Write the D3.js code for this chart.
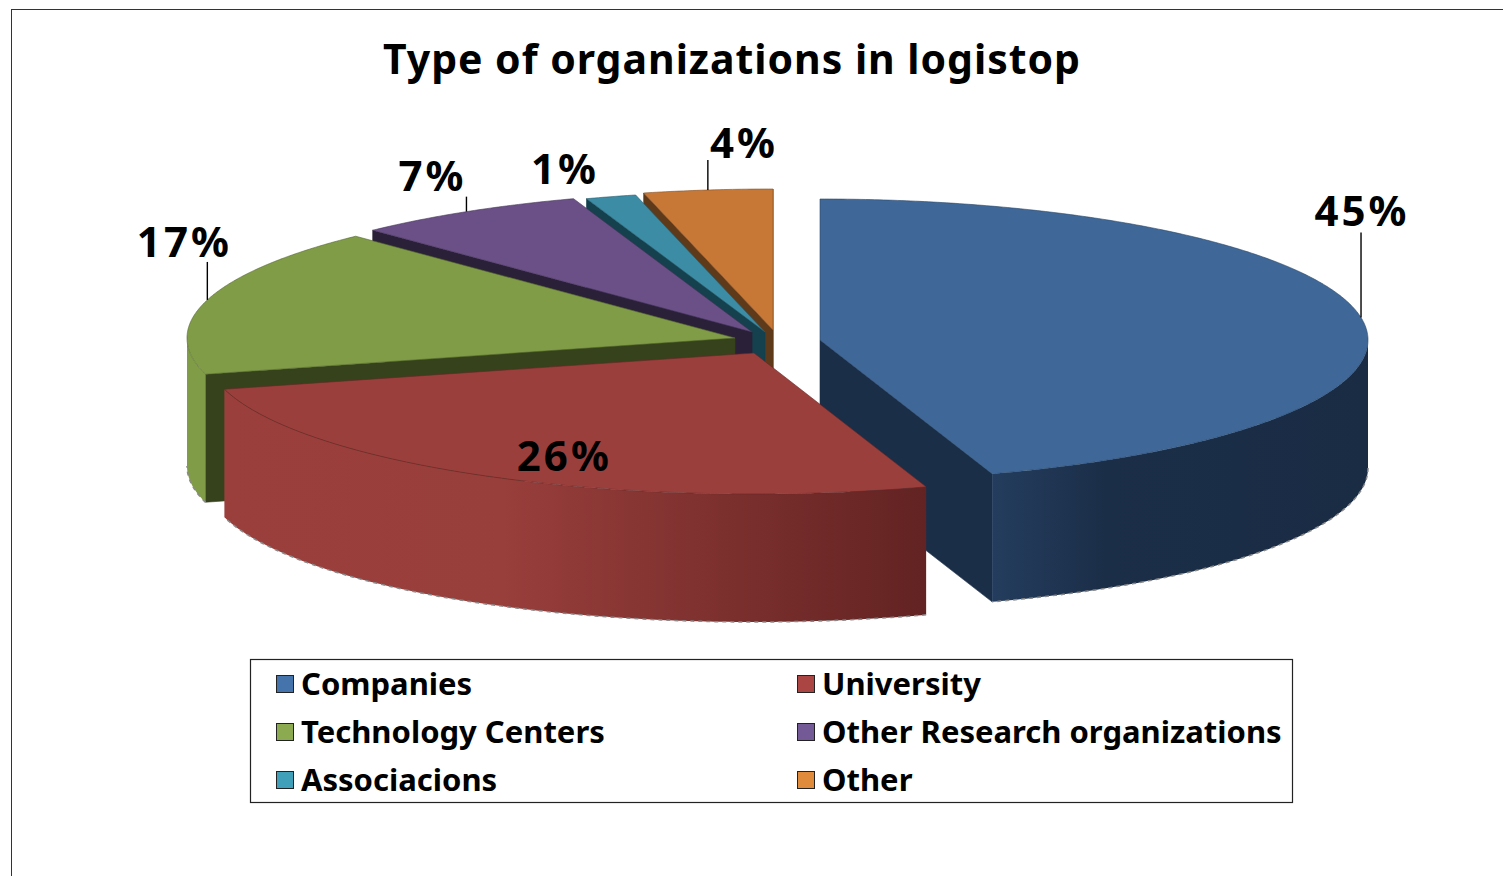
<!DOCTYPE html>
<html>
<head>
<meta charset="utf-8">
<script src="https://cdnjs.cloudflare.com/ajax/libs/d3/7.8.5/d3.min.js"></script>
<style>
  html, body { margin: 0; padding: 0; background: #fff; overflow: hidden; }
  text { font-family: "Noto Sans", sans-serif; font-weight: 700; fill: #000; }
</style>
</head>
<body>
<div id="plot"></div>
<script>
var width = 1503, height = 876;

// values, slightly off the rounded labels because the slices are
var categories = ["Companies", "University", "Technology Centers", "Other Research organizations", "Associacions", "Other"];
var values = [45, 26, 17, 6.9, 1.49, 3.8];

var topColors = ["#3f6899", "#9b3f3c", "#809c47", "#6a5087", "#3b8ca4", "#c87836"];
var sideColors = ["#1b2e48", "#662423", "#36421c", "#2a2038", "#15404d", "#5f3a1a"];
var legendColors = ["#4474ab", "#ab4543", "#8cab50", "#735a96", "#40a0ba", "#e08a3c"];
var wallStart = ["#243d5e", "#9b3f3c", "#809c47", "#6a5087", "#3b8ca4", "#c87836"];
var wallMid = ["#1b2e48", "#983e3b", "#809c47", "#6a5087", "#3b8ca4", "#c87836"];
var wallEnd = ["#1a2c44", "#622322", "#809c47", "#6a5087", "#3b8ca4", "#c87836"];

// how far each slice sits from the pie centre, in px
var explodeX = [50, -16, -35, -18, -5, 3];
var explodeY = [0, 13, -2, -8, -8, -10];
// label offset from the rim middle of the slice
var labelDx = [1, 71, -23, -34, -46, 36];
var labelDy = [-92, -6, -43, -21, -13, -32];
// gap between label baseline and leader top, 0 = no leader
var leaderGap = [7, 0, 5, 6, 0, 2];

var center = {x: 770, y: 340}, rx = 548, ry = 141, depth = 128;

var xScale = d3.scaleLinear().domain([-1, 1]).range([-rx, rx]);
var yScale = d3.scaleLinear().domain([-1, 1]).range([-ry, ry]);

var pie = d3.pie().sort(null).value(d => d);
var slices = pie(values).map((d, i) => ({
  i: i,
  a0: d.startAngle,
  a1: d.endAngle,
  mid: (d.startAngle + d.endAngle) / 2,
  cx: center.x + explodeX[i],
  cy: center.y + explodeY[i]
}));

var rim = (s, a, z) => [s.cx + xScale(Math.sin(a)), s.cy + yScale(-Math.cos(a)) + (z || 0)];

function arcPoints(s, a0, a1, z) {
  var n = Math.max(2, Math.ceil((a1 - a0) * 120));
  return d3.range(n + 1).map(k => rim(s, a0 + (a1 - a0) * k / n, z));
}

var line = d3.line();

var svg = d3.select("#plot")
  .append("svg")
    .attr("width", width)
    .attr("height", height);

var defs = svg.append("defs");
categories.forEach((c, i) => {
  var g = defs.append("linearGradient").attr("id", "wall" + i);
  g.append("stop").attr("offset", 0).attr("stop-color", wallStart[i]);
  g.append("stop").attr("offset", i == 0 ? 0.3 : 0.4).attr("stop-color", wallMid[i]);
  g.append("stop").attr("offset", 1).attr("stop-color", wallEnd[i]);
});

// chart frame, runs off the page on the right and at the bottom
svg.append("rect")
  .attr("x", 11.5).attr("y", 9.5)
  .attr("width", width).attr("height", height)
  .attr("fill", "none").attr("stroke", "#333");

svg.append("text")
  .attr("x", 383).attr("y", 74)
  .attr("font-size", 41)
  .attr("textLength", 697)
  .text("Type of organizations in logistop");

// back to front
var order = [5, 4, 3, 2, 0, 1];
var pieG = svg.append("g");

order.forEach(i => {
  var s = slices[i], g = pieG.append("g");

  // the two cut faces, only the ones turned to the viewer show
  [s.a0, s.a1].forEach((a, k) => {
    var facing = k == 0 ? Math.sin(a) : -Math.sin(a);
    if (facing < 0) {
      g.append("path")
        .attr("d", line([[s.cx, s.cy], [s.cx, s.cy + depth], rim(s, a, depth), rim(s, a)]) + "Z")
        .attr("fill", sideColors[i])
        .attr("stroke", sideColors[i])
        .attr("stroke-width", 0.6);
    }
  });

  // outer wall, front half of the ellipse only
  var w0 = Math.max(s.a0, Math.PI / 2), w1 = Math.min(s.a1, Math.PI * 1.5);
  if (w1 > w0) {
    var front = arcPoints(s, w0, w1), bottom = arcPoints(s, w0, w1, depth).reverse();
    g.append("path")
      .attr("d", line(front.concat(bottom)) + "Z")
      .attr("fill", "url(#wall" + i + ")");
    g.append("path")
      .attr("d", line(arcPoints(s, w0, w1, depth)))
      .attr("fill", "none")
      .attr("stroke", "#8a8a8a")
      .attr("stroke-width", 1.5)
      .attr("stroke-dasharray", "4 4");
  }

  // top face
  g.append("path")
    .attr("d", line([[s.cx, s.cy]].concat(arcPoints(s, s.a0, s.a1))) + "Z")
    .attr("fill", topColors[i])
    .attr("stroke", d3.color(topColors[i]).darker(1.2))
    .attr("stroke-width", 0.6);
});

// percentage labels and their leaders
slices.forEach(s => {
  var p = rim(s, s.mid), lx = p[0] + labelDx[s.i], ly = p[1] + labelDy[s.i];
  if (leaderGap[s.i]) {
    svg.append("line")
      .attr("x1", p[0]).attr("x2", p[0])
      .attr("y1", p[1]).attr("y2", ly + leaderGap[s.i])
      .attr("stroke", "#000").attr("stroke-width", 1.4);
  }
  svg.append("text")
    .attr("x", lx).attr("y", ly)
    .attr("text-anchor", "middle")
    .attr("font-size", 42)
    .attr("letter-spacing", 3)
    .text(Math.round(values[s.i]) + "%");
});

// legend
svg.append("rect")
  .attr("x", 250.5).attr("y", 659.5)
  .attr("width", 1042).attr("height", 143)
  .attr("fill", "#fff").attr("stroke", "#222").attr("stroke-width", 1.2);

var colX = d3.scaleOrdinal().domain([0, 1]).range([276, 797]);
var rowY = d3.scalePoint().domain([0, 1, 2]).range([684, 780]);

var item = svg.selectAll(".legend-item")
  .data(categories)
  .enter()
  .append("g")
  .attr("class", "legend-item")
  .attr("transform", (d, i) => "translate(" + colX(i % 2) + "," + rowY(Math.floor(i / 2)) + ")");

item.append("rect")
  .attr("x", 0.5).attr("y", -8.5)
  .attr("width", 17).attr("height", 17)
  .attr("fill", (d, i) => legendColors[i])
  .attr("stroke", "#222");

item.append("text")
  .attr("x", 25).attr("y", 11)
  .attr("font-size", 31)
  .text(d => d);
</script>
</body>
</html>
